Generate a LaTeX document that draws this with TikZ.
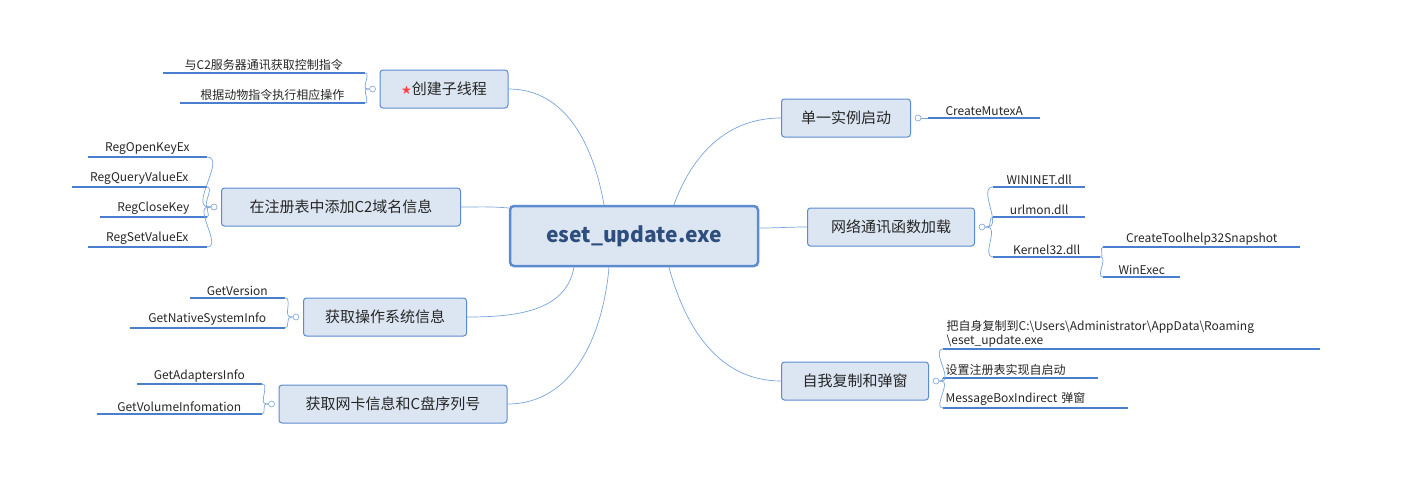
\documentclass[tikz,border=0pt]{standalone}
\usepackage{fontspec}
\setmainfont{Noto Sans CJK SC}
\newfontfamily\symf{DejaVu Sans}
\definecolor{bfill}{HTML}{DCE6F2}
\definecolor{bdraw}{HTML}{5B8BD0}
\definecolor{lcol}{HTML}{7AA3DA}
\definecolor{ucol}{HTML}{4A7FD0}
\definecolor{ctext}{HTML}{2E4E7E}
\begin{document}
\begin{tikzpicture}[x=1pt,y=-1pt,
  topic/.style={draw=bdraw,fill=bfill,rounded corners=3pt,line width=1pt,font=\fontsize{15}{17}\selectfont,text=black!85,inner xsep=8pt,minimum height=38pt},
  leaf/.style={font=\fontsize{12}{14}\selectfont,text=black!85,inner xsep=2pt,inner ysep=2pt,
    append after command={(\tikzlastnode.south west) edge[ucol,line width=1.5pt] (\tikzlastnode.south east)}},
  conn/.style={lcol,line width=0.7pt},
  knob/.style={circle,draw=lcol,fill=white,inner sep=0pt,minimum size=6pt,line width=0.6pt}]
\useasboundingbox (0,0) rectangle (1412,501);
% central
\node[draw=bdraw,fill=bfill,line width=2.5pt,rounded corners=4pt,minimum width=248pt,minimum height=60pt,font=\fontsize{21}{24}\selectfont\bfseries,text=ctext] (c) at (634,236) {eset\_update.exe};
% level 1
\node[topic,minimum width=128pt] (t1) at (444,89) {{\symf\color{red!75}\fontsize{12}{14}\selectfont ★}创建子线程};
\node[topic,minimum width=239pt] (t2) at (341,207) {在注册表中添加C2域名信息};
\node[topic,minimum width=163pt] (t3) at (385,317) {获取操作系统信息};
\node[topic,minimum width=228pt] (t4) at (393,404) {获取网卡信息和C盘序列号};
\node[topic,minimum width=129pt] (t5) at (846,118) {单一实例启动};
\node[topic,minimum width=167pt] (t6) at (891,227) {网络通讯函数加载};
\node[topic,minimum width=147pt] (t7) at (855,381) {自我复制和弹窗};
% central connectors
\draw[conn] (c.north) ++(-30,0) coordinate (c1) to[out=100,in=0] (t1.east);
\draw[conn] (c.west) ++(0,-28) to[out=175,in=0] (t2.east);
\draw[conn] (c.south) ++(-60,0) to[out=-100,in=0] (t3.east);
\draw[conn] (c.south) ++(-25,0) to[out=-95,in=0] (t4.east);
\draw[conn] (c.north) ++(40,0) to[out=70,in=180] (t5.west);
\draw[conn] (c.east) ++(0,-8) to[out=0,in=180] (t6.west);
\draw[conn] (c.south) ++(35,0) to[out=-75,in=180] (t7.west);
% knobs
\node[knob] (k1) at ([xshift=-7pt]t1.west) {};
\node[knob] (k2) at ([xshift=-7pt]t2.west) {};
\node[knob] (k3) at ([xshift=-7pt]t3.west) {};
\node[knob] (k4) at ([xshift=-7pt]t4.west) {};
\node[knob] (k5) at ([xshift=7pt]t5.east) {};
\node[knob] (k6) at ([xshift=7pt]t6.east) {};
\node[knob] (k7) at ([xshift=7pt]t7.east) {};
% left leaves
\node[leaf,anchor=south east,minimum width=202pt] (l11) at (365,73) {与C2服务器通讯获取控制指令};
\node[leaf,anchor=south east,minimum width=185pt] (l12) at (365,103) {根据动物指令执行相应操作};
\node[leaf,anchor=south east,minimum width=119pt] (l21) at (207,157) {RegOpenKeyEx};
\node[leaf,anchor=south east,minimum width=135pt] (l22) at (207,187) {RegQueryValueEx};
\node[leaf,anchor=south east,minimum width=107pt] (l23) at (207,217) {RegCloseKey};
\node[leaf,anchor=south east,minimum width=119pt] (l24) at (207,247) {RegSetValueEx};
\node[leaf,anchor=south east,minimum width=95pt] (l31) at (285,298) {GetVersion};
\node[leaf,anchor=south east,minimum width=155pt] (l32) at (285,328) {GetNativeSystemInfo};
\node[leaf,anchor=south east,minimum width=125pt] (l41) at (262,384) {GetAdaptersInfo};
\node[leaf,anchor=south east,minimum width=165pt] (l42) at (262,414) {GetVolumeInfomation};
\foreach \k/\l in {k1/l11,k1/l12,k2/l21,k2/l22,k2/l23,k2/l24,k3/l31,k3/l32,k4/l41,k4/l42}
  \draw[conn] (\k.west) -- ++(-2,0) to[out=180,in=0] (\l.south east);
% right leaves
\node[leaf,anchor=south west,minimum width=112pt] (r51) at (928,118) {CreateMutexA};
\node[leaf,anchor=south west,minimum width=92pt] (r61) at (993,187) {WININET.dll};
\node[leaf,anchor=south west,minimum width=92pt] (r62) at (993,217) {urlmon.dll};
\node[leaf,anchor=south west,minimum width=107pt] (r63) at (993,257) {Kernel32.dll};
\node[leaf,anchor=south west,minimum width=197pt] (r64) at (1103,247) {CreateToolhelp32Snapshot};
\node[leaf,anchor=south west,minimum width=77pt] (r65) at (1103,277) {WinExec};
\node[leaf,anchor=south west,minimum width=377pt,align=left,text width=370pt] (r71) at (943,349) {把自身复制到C:\textbackslash Users\textbackslash Administrator\textbackslash AppData\textbackslash Roaming\\\textbackslash eset\_update.exe};
\node[leaf,anchor=south west,minimum width=155pt,align=left,text width=150pt] (r72) at (943,378) {设置注册表实现自启动};
\node[leaf,anchor=south west,minimum width=185pt,align=left,text width=180pt] (r73) at (943,408) {MessageBoxIndirect 弹窗};
\draw[conn] (k5.east) -- (r51.south west);
\foreach \k/\l in {k6/r61,k6/r62,k6/r63,k7/r71,k7/r72,k7/r73}
  \draw[conn] (\k.east) -- ++(2,0) to[out=0,in=180] (\l.south west);
\coordinate (kk) at ([xshift=-3pt]r63.south east);
\draw[conn] (r63.south east) to[out=0,in=180] (r64.south west);
\draw[conn] (r63.south east) to[out=0,in=180] (r65.south west);
\end{tikzpicture}
\end{document}
